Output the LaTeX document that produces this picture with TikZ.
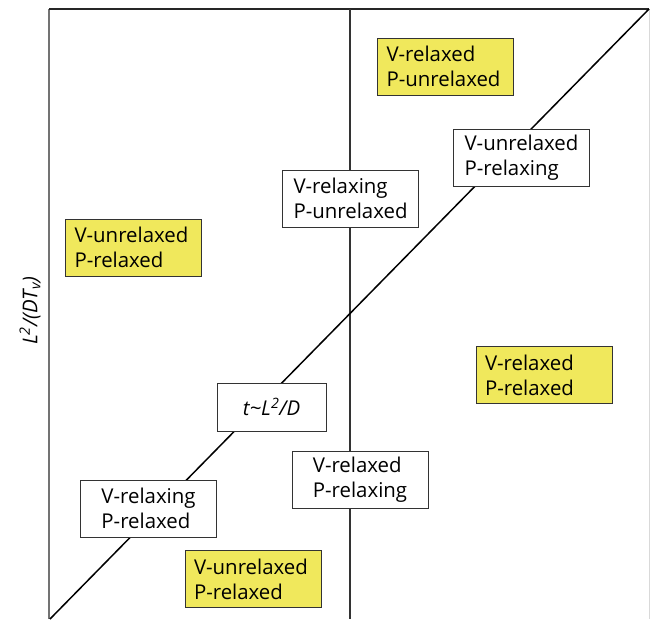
\documentclass[tikz,border=0pt]{standalone}
\usepackage{fontspec}
\setmainfont{Open Sans}
\definecolor{regimeyellow}{RGB}{240,232,92}

\begin{document}
\begin{tikzpicture}[x=1pt,y=-1pt,font=\fontsize{20.4}{25}\selectfont,
  state/.style={draw=black!80,fill=regimeyellow,line width=1pt,text width=118pt,inner xsep=9pt,minimum height=57pt,align=left},
  trans/.style={draw=black!80,fill=white,line width=1pt,minimum width=136pt,inner xsep=10pt,minimum height=57pt,align=left}]
\useasboundingbox (0,0) rectangle (650,619);
% frame and regime boundaries
\coordinate (tl) at (49,9); \coordinate (tm) at (350,9); \coordinate (tr) at (649,9);
\coordinate (bl) at (49,619); \coordinate (bm) at (350,619); \coordinate (br) at (649,619);
\coordinate (d0) at (50,619);
\draw[line width=1.5pt,black!55] (tl) -- (bl);
\draw[line width=1pt,black!15] (tr) -- (br);
\draw[line width=1.5pt,black!85] (tl) -- (tr);
\draw[line width=1.5pt,black!80] (tm) -- (bm);
\draw[line width=1.5pt] (d0) -- (tr);
\node[rotate=90] (ylab) at (30,311) {\itshape L\textsuperscript{2}/(DT\textsubscript{v})};
% regimes
\node[state] (vrpu) at (445.5,66.5) {V-relaxed\\P-unrelaxed};
\node[trans] (vupg) at (521.5,158) {V-unrelaxed\\P-relaxing};
\node[trans] (vgpu) at (350.5,198.5) {V-relaxing\\P-unrelaxed};
\node[state] (vupr) at (133.5,247.5) {V-unrelaxed\\P-relaxed};
\node[state] (vrpr) at (544,375) {V-relaxed\\P-relaxed};
\node[trans,minimum width=109pt,minimum height=48pt] (diff) at (271.5,407) {\itshape t\textasciitilde L\textsuperscript{2}/D};
\node[trans] (vrpg) at (360,480) {V-relaxed\\P-relaxing};
\node[trans] (vgpr) at (148.5,508.5) {V-relaxing\\P-relaxed};
\node[state] (vuprb) at (253,579) {V-unrelaxed\\P-relaxed};
\end{tikzpicture}
\end{document}
